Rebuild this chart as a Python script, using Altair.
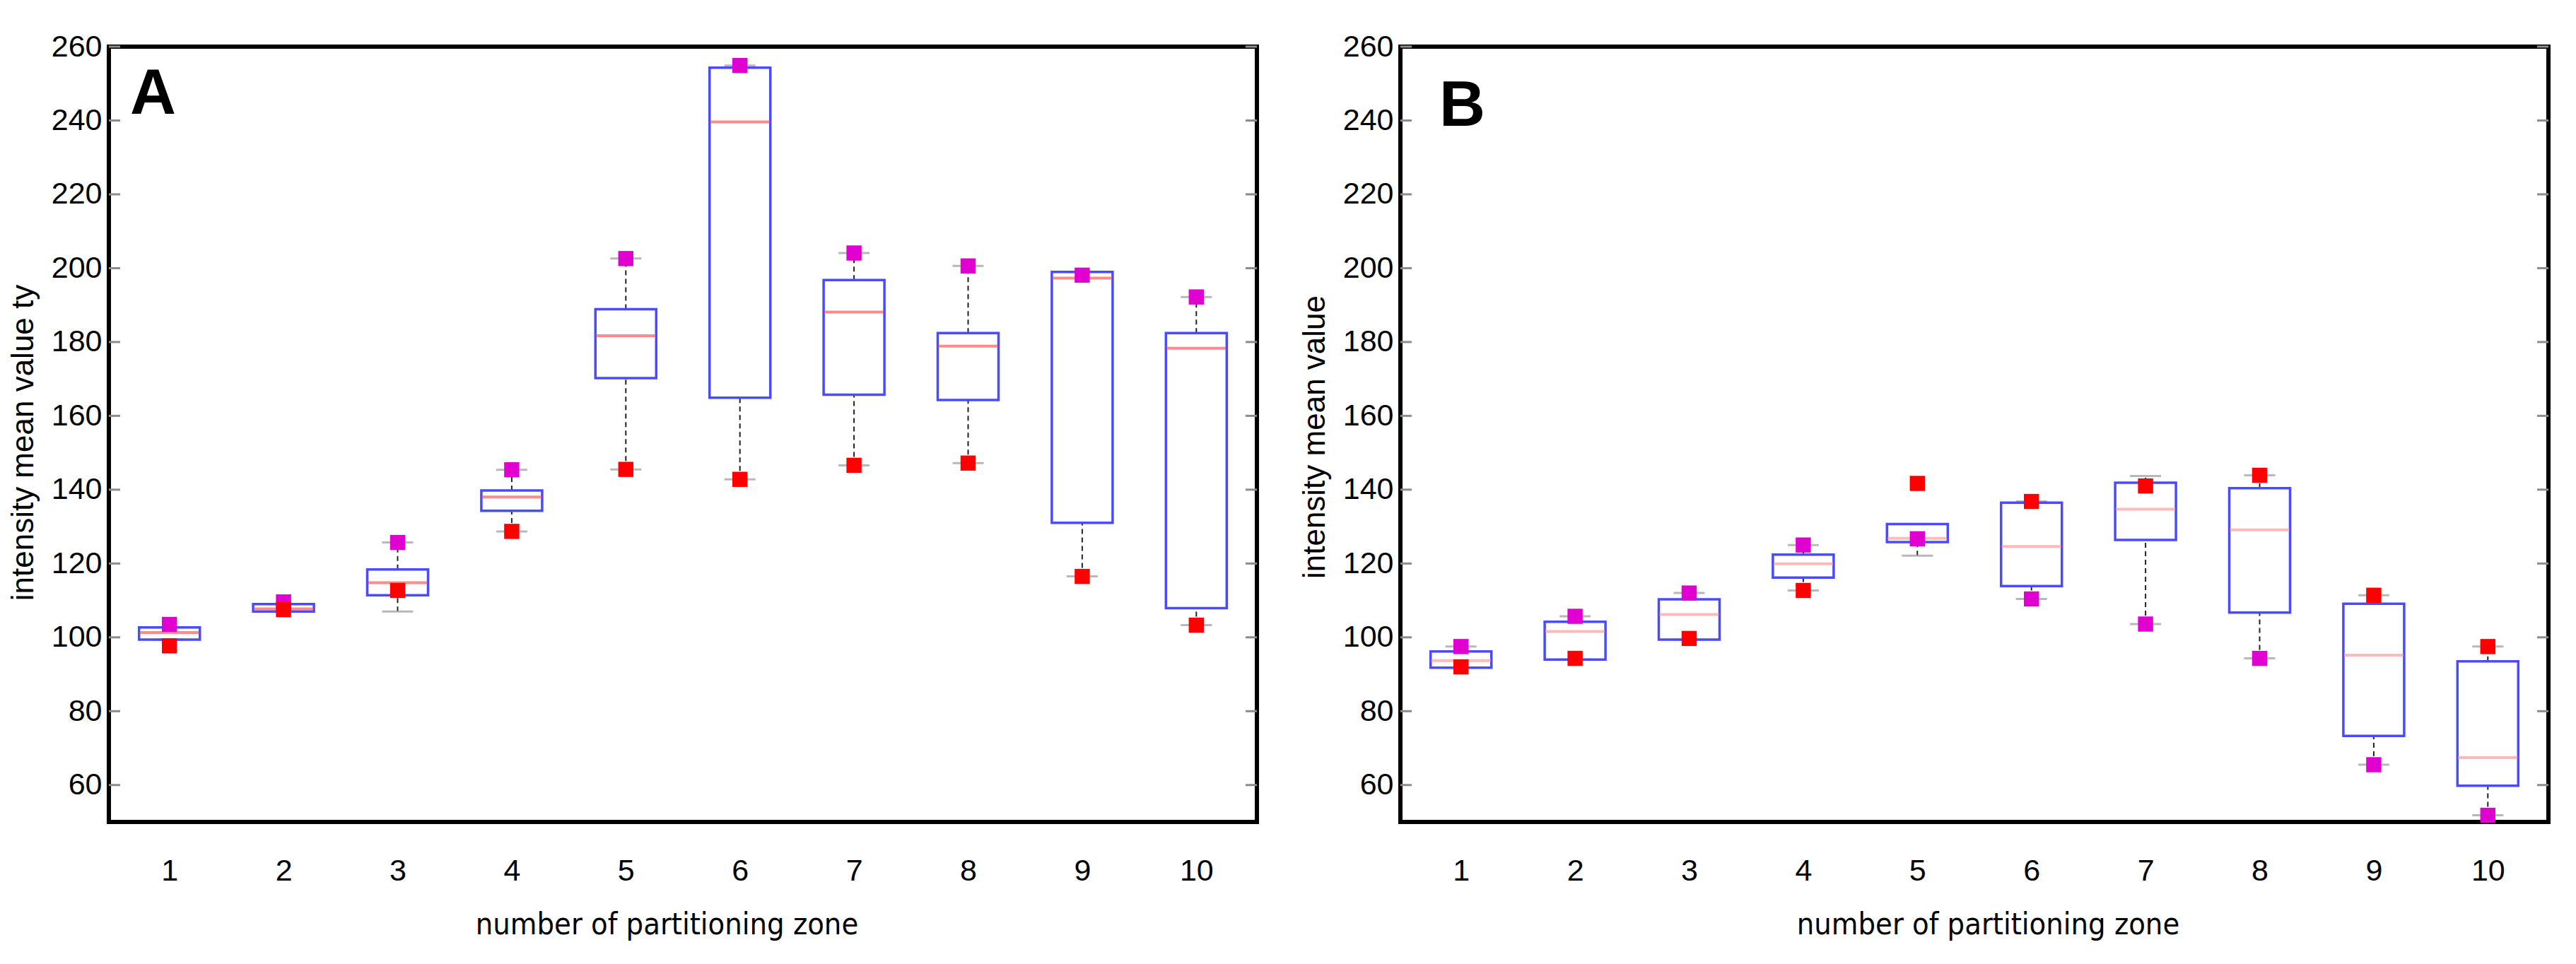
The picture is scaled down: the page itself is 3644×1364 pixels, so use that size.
import altair as alt
import pandas as pd

zones = [1, 2, 3, 4, 5, 6, 7, 8, 9, 10]
y_ticks = [60, 80, 100, 120, 140, 160, 180, 200, 220, 240, 260]

# Panel A
a_q1 = [99.4, 107.0, 111.4, 134.3, 170.2, 164.9, 165.7, 164.3, 131.0, 107.9]
a_q3 = [102.7, 109.0, 118.4, 139.8, 188.9, 254.3, 196.8, 182.4, 199.0, 182.4]
a_med = [101.3, 107.7, 114.8, 138.0, 181.7, 239.6, 188.1, 178.9, 197.3, 178.3]
a_mag = [103.5, 109.6, 125.7, 145.4, 202.6, 254.9, 204.1, 200.6, 198.1, 192.2]
a_red = [97.7, 107.5, 112.7, 128.7, 145.5, 142.8, 146.6, 147.2, 116.5, 103.3]
a_whi = [102.7, 109.0, 125.7, 145.4, 202.6, 254.9, 204.1, 200.6, 199.0, 192.2]
a_wlo = [99.4, 107.0, 107.0, 128.7, 145.5, 142.8, 146.6, 147.2, 116.5, 103.3]

# Panel B
b_q1 = [91.8, 94.0, 99.4, 116.2, 125.8, 113.9, 126.4, 106.7, 73.3, 59.8]
b_q3 = [96.2, 104.2, 110.3, 122.4, 130.7, 136.5, 141.9, 140.4, 109.1, 93.5]
b_med = [93.7, 101.6, 106.2, 119.9, 126.8, 124.6, 134.7, 129.1, 95.2, 67.4]
b_mag = [97.5, 105.7, 112.0, 125.0, 126.7, 110.4, 103.6, 94.3, 65.5, 51.8]
b_red = [92.0, 94.3, 99.7, 112.7, 141.7, 136.8, 141.0, 143.9, 111.4, 97.5]
b_whi = [97.5, 105.7, 112.0, 125.0, 130.7, 136.8, 143.7, 143.9, 111.4, 97.5]
b_wlo = [91.8, 94.0, 99.4, 112.7, 122.1, 110.4, 103.6, 94.3, 65.5, 51.8]

W = 1624
H = 1097
FONT = "Liberation Sans"
NARROW = "Liberation Sans Narrow, Arial Narrow, DejaVu Sans Condensed, sans-serif"


def xenc(title_x):
    return alt.X(
        "zone:Q",
        scale=alt.Scale(domain=[0.5, 10.5], nice=False, zero=False),
        axis=alt.Axis(
            values=zones, format="d", title="number of partitioning zone",
            grid=False, domain=False, ticks=False, tickSize=0,
            labelFont=FONT, labelFontSize=43, labelColor="black", labelPadding=48,
            titleFont=NARROW, titleFontSize=43, titleFontWeight="normal",
            titleColor="black", titleBaseline="alphabetic", titleY=158, titleX=title_x,
        ),
    )


def yenc(field, ytitle, title_y):
    return alt.Y(
        field,
        scale=alt.Scale(domain=[50, 260], nice=False, zero=False),
        axis=alt.Axis(
            values=y_ticks, title=ytitle, grid=False, domain=False,
            ticks=False, tickSize=0,
            labelFont=FONT, labelFontSize=43, labelColor="black", labelPadding=10,
            titleFont=FONT, titleFontSize=44, titleFontWeight="normal",
            titleColor="black", titleAngle=270, titleBaseline="alphabetic",
            titleX=-108, titleY=title_y,
        ),
    )


def panel(q1, q3, med, mag, red, wlo, whi, letter, letter_x, letter_y,
          med_color, ytitle, title_x, title_y):
    df = pd.DataFrame({"zone": zones, "q1": q1, "q3": q3, "med": med,
                       "mag": mag, "red": red, "wlo": wlo, "whi": whi})
    tdf = pd.DataFrame({"t": y_ticks})
    base = alt.Chart(df)
    X = xenc(title_x)

    def Y(f):
        return yenc(f, ytitle, title_y)

    ticks_l = alt.Chart(tdf).mark_rule(color="#8c8c8c", strokeWidth=3).encode(
        y=Y("t:Q"), x=alt.value(0), x2=alt.value(16))
    ticks_r = alt.Chart(tdf).mark_rule(color="#8c8c8c", strokeWidth=3).encode(
        y=Y("t:Q"), x=alt.value(W - 16), x2=alt.value(W))

    w_hi = base.mark_rule(color="#222222", strokeWidth=2, strokeDash=[7, 5]).encode(
        x=X, y=Y("q3:Q"), y2="whi:Q")
    w_lo = base.mark_rule(color="#222222", strokeWidth=2, strokeDash=[7, 5]).encode(
        x=X, y=Y("wlo:Q"), y2="q1:Q")
    cap_hi = base.mark_tick(orient="horizontal", size=44, thickness=3, color="#9a9a9a").encode(
        x=X, y=Y("whi:Q"))
    cap_lo = base.mark_tick(orient="horizontal", size=44, thickness=3, color="#9a9a9a").encode(
        x=X, y=Y("wlo:Q"))

    box = base.mark_bar(size=86, fill="white", fillOpacity=0, stroke="#4a4aff",
                        strokeWidth=3.5).encode(
        x=X, y=Y("q1:Q"), y2="q3:Q")
    median = base.mark_tick(orient="horizontal", size=84, thickness=4, color=med_color).encode(
        x=X, y=Y("med:Q"))

    p_mag = base.mark_square(size=460, color="#e000d0", opacity=1).encode(
        x=X, y=Y("mag:Q"))
    p_red = base.mark_square(size=460, color="#ff0000", opacity=1).encode(
        x=X, y=Y("red:Q"))

    lab = alt.Chart(pd.DataFrame({"l": [letter]})).mark_text(
        font=FONT, fontSize=90, fontWeight="bold", align="left",
        baseline="alphabetic", color="black").encode(
        text="l:N", x=alt.value(letter_x), y=alt.value(letter_y))

    return alt.layer(ticks_l, ticks_r, w_hi, w_lo, cap_hi, cap_lo, box, median,
                     p_mag, p_red, lab).properties(width=W, height=H)


chart_a = panel(a_q1, a_q3, a_med, a_mag, a_red, a_wlo, a_whi, "A", 30, 95,
                "#ff5a5a", "intensity mean value ty", 789, 560)
chart_b = panel(b_q1, b_q3, b_med, b_mag, b_red, b_wlo, b_whi, "B", 55, 112,
                "#ff9c9c", "intensity mean value", 831, 552)

chart = alt.hconcat(chart_a, chart_b, spacing=203, bounds="flush").properties(
    padding={"left": 0, "top": 34, "right": 5, "bottom": 5}
).configure_view(stroke="black", strokeWidth=6)

chart.save("out.html", embed_options={"renderer": "svg", "actions": False})
